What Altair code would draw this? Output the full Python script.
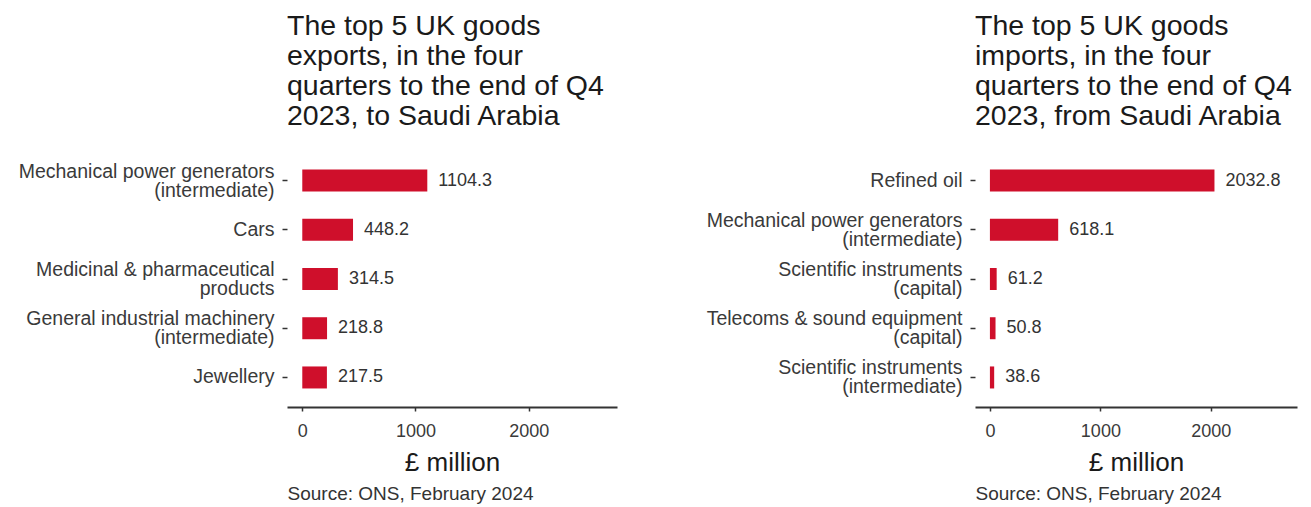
import altair as alt
import pandas as pd

FONT = "Liberation Sans"
BAR_COLOR = "#CF0F2B"

# ---- data ----
exp_categories = [
    "Mechanical power generators|(intermediate)",
    "Cars",
    "Medicinal & pharmaceutical|products",
    "General industrial machinery|(intermediate)",
    "Jewellery",
]
exp_values = [1104.3, 448.2, 314.5, 218.8, 217.5]

imp_categories = [
    "Refined oil",
    "Mechanical power generators|(intermediate)",
    "Scientific instruments|(capital)",
    "Telecoms & sound equipment|(capital)",
    "Scientific instruments|(intermediate)",
]
imp_values = [2032.8, 618.1, 61.2, 50.8, 38.6]

exp_title = ["The top 5 UK goods", "exports, in the four",
             "quarters to the end of Q4", "2023, to Saudi Arabia"]
imp_title = ["The top 5 UK goods", "imports, in the four",
             "quarters to the end of Q4", "2023, from Saudi Arabia"]

x_ticks = [0, 1000, 2000]
x_domain = [-135, 2780]
x_title = "£ million"
source_text = "Source: ONS, February 2024"


def panel(cats, vals, title_lines, w):
    df = pd.DataFrame({"cat": cats, "value": vals})
    x_scale = alt.Scale(domain=x_domain, nice=False, zero=False)
    y = alt.Y(
        "cat:N", sort=cats, title=None,
        scale=alt.Scale(paddingInner=0.553, paddingOuter=0.3765),
        axis=alt.Axis(
            labelExpr="split(datum.label, '|')", labelLimit=500,
            labelFontSize=19.5, labelLineHeight=19, labelColor="#3a3a3a",
            labelOffset=alt.ExprRef(expr="indexof(datum.value, '|') >= 0 ? -9 : 0"),
            labelPadding=8, tickSize=5, tickColor="#333333", tickWidth=1.5,
            domain=False, grid=False, labelFont=FONT,
        ),
    )
    bars = alt.Chart(df).mark_bar(color=BAR_COLOR).encode(
        x=alt.X(
            "value:Q", scale=x_scale, title=x_title,
            axis=alt.Axis(
                values=x_ticks, format="d", grid=False, domainColor="#333333", domainWidth=2.2,
                tickColor="#333333", tickSize=4, tickWidth=1.5,
                labelFontSize=18, labelColor="#3a3a3a", labelPadding=11, labelFont=FONT,
                titleFontSize=26, titleFontWeight="normal", titleColor="#1a1a1a",
                titlePadding=9, titleFont=FONT,
            ),
        ),
        y=y,
    )
    labels = alt.Chart(df).mark_text(
        align="left", baseline="middle", dx=11, fontSize=18, color="#333333", font=FONT
    ).encode(
        x=alt.X(
            "value:Q", scale=x_scale,
            axis=alt.Axis(
                orient="bottom", labels=False, ticks=False, domain=False, grid=False,
                title=source_text, titleAnchor="start", titleFontSize=19,
                titleFontWeight="normal", titleColor="#333333", titlePadding=77,
                titleFont=FONT,
            ),
        ),
        y=y,
        text=alt.Text("value:Q", format=".1f"),
    )
    return alt.layer(bars, labels).resolve_axis(x="independent").properties(
        width=w, height=256,
        title=alt.TitleParams(
            title_lines, anchor="start", frame="group", fontSize=28.5, lineHeight=30,
            fontWeight="normal", color="#1a1a1a", offset=21, font=FONT,
        ),
    )


left = panel(exp_categories, exp_values, exp_title, 330)
right = panel(imp_categories, imp_values, imp_title, 322)

chart = alt.hconcat(left, right, spacing=89).properties(
    padding={"left": 10, "top": 3, "right": 5, "bottom": 2},
    background="white",
).configure_view(strokeWidth=0, stroke=None)

chart.save("out.html", embed_options={"renderer": "svg", "actions": False})
